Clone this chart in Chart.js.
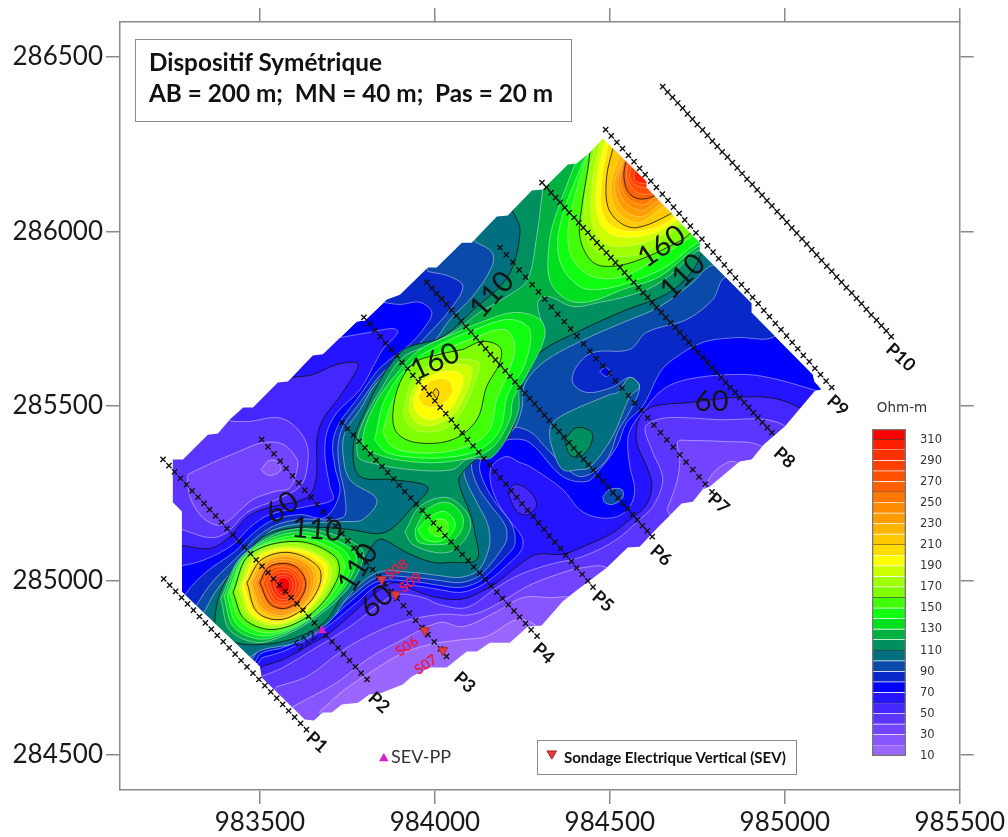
<!DOCTYPE html>
<html>
<head>
<meta charset="utf-8">
<title>Dispositif Symétrique</title>
<script src="https://cdn.jsdelivr.net/npm/chart.js@4"></script>
<style>
  html, body { margin: 0; background: #fff; }
  #wrap { position: relative; width: 1008px; height: 837px; overflow: hidden; font-family: Lato, sans-serif; }
  canvas { position: absolute; left: 0; top: 0; }
  #colorbar { left: 860px; top: 395px; }
  .box { position: absolute; border: 1.5px solid #8a8a8a; box-sizing: border-box; color: #111; font-weight: bold; }
  #infoBox { left: 135px; top: 39px; width: 437px; height: 83px; padding: 6px 0 0 13px; font-size: 24.3px; line-height: 31px; white-space: pre; }
  #keyBox { left: 537px; top: 740px; width: 260px; height: 35px; padding: 6px 0 0 26px; font-size: 15px; line-height: 20px; white-space: nowrap; }
  #ppText { position: absolute; left: 391px; top: 745px; font-size: 18px; line-height: 22px; color: #333; }
</style>
</head>
<body>
<div id="wrap">
  <canvas id="mapChart" width="1008" height="837"></canvas>
  <canvas id="colorbar" width="110" height="374"></canvas>
  <div class="box" id="infoBox">Dispositif Symétrique
AB = 200 m;  MN = 40 m;  Pas = 20 m</div>
  <div class="box" id="keyBox">Sondage Electrique Vertical (SEV)</div>
  <div id="ppText">SEV-PP</div>
</div>
<script>
const xTicks = [983500, 984000, 984500, 985000, 985500];
const yTicks = [284500, 285000, 285500, 286000, 286500];
const xLimits = [983100, 985500];
const yLimits = [284400, 286600];

// Ohm-m classes, one colour per 10 units
const bandLevels = [10, 20, 30, 40, 50, 60, 70, 80, 90, 100, 110, 120, 130, 140, 150, 160, 170, 180, 190, 200, 210, 220, 230, 240, 250, 260, 270, 280, 290, 300, 310];
const bandColors = ['#9966ff', '#8855ff', '#7344ff', '#5c35ff', '#4426ff', '#2414ff', '#0000ff', '#0828c8', '#0a4aa8', '#007080', '#009060', '#00b040', '#00e020', '#10ff10', '#40ff08', '#80ff00', '#a0ff00', '#ccff00', '#ffff00', '#ffdd00', '#ffc800', '#ffb400', '#ff9c00', '#ff8c00', '#ff7800', '#ff6000', '#ff5000', '#ff4000', '#ff3000', '#ff2000', '#ff0000'];
const legendTicks = [10, 30, 50, 70, 90, 110, 130, 150, 170, 190, 210, 230, 250, 270, 290, 310];

// surveyed area outline (easting, northing)
const siteOutline = [[983251,285347],[983280,285347],[983351,285418],[983380,285421],[983414,285461],[983452,285496],[983480,285496],[983551,285567],[983580,285570],[983651,285645],[983680,285648],[983777,285742],[983800,285745],[983863,285805],[983900,285819],[983980,285897],[984005,285897],[984077,285968],[984105,285968],[984177,286043],[984208,286046],[984277,286117],[984308,286120],[984380,286192],[984405,286195],[984443,286226],[984480,286266],[984605,286143],[984605,286126],[984757,285968],[984757,285943],[984905,285794],[984905,285768],[985080,285590],[985085,285570],[985105,285547],[985085,285542],[985000,285441],[984940,285390],[984905,285347],[984871,285341],[984785,285269],[984765,285261],[984737,285226],[984705,285221],[984637,285152],[984585,285097],[984551,285095],[984491,285037],[984400,284968],[984365,284940],[984305,284871],[984265,284868],[984214,284822],[984157,284822],[984120,284797],[984091,284797],[984034,284751],[983986,284751],[983934,284725],[983908,284702],[983837,284674],[983814,284674],[983780,284650],[983734,284645],[983705,284622],[983680,284622],[983654,284599],[983628,284602],[983505,284722],[983500,284754],[983277,284968],[983277,285198],[983251,285224]];

// low resistivity areas, west plateau
const lowWest70 = [[983728,285696],[983814,285711],[983880,285722],[983894,285711],[983851,285662],[983834,285633],[983786,285547],[983720,285481],[983691,285424],[983686,285355],[983700,285269],[983708,285232],[983634,285212],[983528,285189],[983471,285152],[983423,285103],[983343,285060],[983277,285043],[983228,285043],[983214,285375],[983700,285748]];
const lowWest60 = [[983594,285582],[983651,285590],[983720,285619],[983777,285625],[983780,285610],[983728,285527],[983680,285461],[983663,285404],[983660,285289],[983634,285238],[983514,285206],[983463,285181],[983414,285126],[983357,285092],[983277,285100],[983228,285100],[983214,285375],[983586,285619]];
const lowWest50 = [[983420,285456],[983471,285456],[983548,285467],[983594,285447],[983634,285390],[983634,285318],[983614,285269],[983548,285232],[983463,285195],[983406,285138],[983357,285123],[983277,285146],[983228,285160],[983228,285361],[983371,285476]];
const lowWest40 = [[983294,285304],[983365,285338],[983434,285367],[983508,285395],[983566,285390],[983606,285347],[983606,285318],[983586,285266],[983543,285255],[983480,285232],[983391,285160],[983343,285175],[983306,285224],[983294,285269]];
const lowWest30 = [[983503,285318],[983526,285344],[983548,285341],[983560,285318],[983534,285301],[983514,285307]];

// low resistivity areas, south-east side
const lowSouth70 = [[983505,284779],[983566,284797],[983634,284831],[983700,284874],[983777,284937],[983843,284989],[983937,284986],[984014,284974],[984071,284966],[984120,284980],[984166,285009],[984208,285046],[984248,285089],[984248,285126],[984205,285183],[984171,285241],[984157,285298],[984166,285332],[984205,285355],[984243,285338],[984271,285327],[984365,285261],[984414,285203],[984463,285181],[984520,285183],[984557,285212],[984571,285261],[984557,285327],[984551,285404],[984563,285441],[984594,285484],[984651,285547],[984720,285576],[984843,285590],[984937,285585],[985080,285547],[985157,285519],[984757,285032],[984357,284716],[983671,284516],[983471,284716]];
const lowSouth60 = [[983505,284754],[983566,284774],[983634,284811],[983700,284851],[983777,284917],[983843,284974],[983886,284994],[983937,284974],[983994,284954],[984071,284946],[984128,284966],[984177,284994],[984234,285040],[984291,285075],[984365,285075],[984423,285097],[984500,285132],[984557,285175],[984605,285218],[984620,285275],[984605,285327],[984577,285395],[984580,285453],[984605,285490],[984651,285504],[984728,285510],[984851,285524],[984957,285524],[985034,285499],[985128,285433],[984757,285060],[984357,284745],[983671,284487],[983471,284688]];
const lowChannel60 = [[984208,285252],[984228,285275],[984265,285261],[984291,285218],[984265,285189],[984234,285198]];
const lowSouth50 = [[983505,284725],[983566,284751],[983651,284802],[983757,284868],[983834,284926],[983891,284960],[983966,284951],[984014,284931],[984091,284923],[984177,284980],[984243,285017],[984328,285046],[984423,285069],[984520,285118],[984585,285175],[984623,285212],[984651,285289],[984623,285367],[984600,285433],[984614,285453],[984671,285467],[984805,285461],[984980,285453],[985043,285375],[984757,285060],[984357,284745],[983671,284487],[983471,284673]];
const lowSouth40 = [[983548,284696],[983634,284725],[983728,284794],[983806,284840],[983900,284880],[984014,284903],[984108,284903],[984186,284937],[984263,284983],[984348,285017],[984423,285037],[984491,285037],[984585,284946],[984186,284602],[983671,284459],[983500,284630]];
const lowSouth30 = [[983594,284639],[983720,284708],[983806,284774],[983908,284831],[984014,284880],[984080,284868],[984177,284911],[984251,284951],[984328,284951],[984400,284946],[984471,284831],[984128,284573],[983671,284459]];
const lowSouth20 = [[983671,284625],[983743,284688],[983828,284745],[983900,284788],[983986,284817],[984080,284831],[984148,284840],[984234,284888],[984285,284874],[984357,284802],[984100,284573],[983700,284487]];
const lowEast40 = [[984663,285203],[984691,285281],[984700,285347],[984694,285398],[984728,285401],[984834,285398],[984920,285390],[985043,285318],[984757,285060]];
const lowEast30 = [[984765,285261],[984805,285318],[984857,285341],[984885,285289],[984800,285218]];

// rising contours of the main body
const high80 = [[983851,285797],[983900,285791],[983957,285797],[983991,285768],[983966,285719],[983928,285676],[983871,285633],[983834,285599],[983777,285519],[983728,285453],[983708,285395],[983714,285327],[983728,285252],[983686,285181],[983614,285189],[983534,285172],[983477,285132],[983428,285083],[983348,285026],[983291,284966],[983271,284917],[983457,284716],[983500,284788],[983566,284808],[983634,284840],[983700,284888],[983766,284946],[983837,284997],[983937,284997],[984014,284986],[984071,284980],[984120,284994],[984157,285023],[984200,285066],[984228,285103],[984220,285160],[984177,285218],[984143,285275],[984128,285332],[984157,285381],[984214,285404],[984271,285395],[984365,285298],[984434,285284],[984471,285318],[984520,285384],[984548,285453],[984594,285499],[984643,285596],[984680,285633],[984765,285682],[984863,285696],[984971,285699],[985043,285805],[984614,286321],[984357,286292],[983851,285862]];
const high90 = [[983980,285885],[984043,285871],[984080,285842],[984043,285776],[983986,285711],[983928,285653],[983851,285596],[983786,285510],[983737,285441],[983723,285384],[983728,285318],[983743,285241],[983737,285181],[983614,285175],[983543,285158],[983486,285120],[983443,285075],[983365,284997],[983320,284931],[983300,284888],[983443,284745],[983505,284808],[983566,284825],[983634,284860],[983700,284903],[983763,284957],[983837,285009],[983937,285009],[984014,285000],[984071,284994],[984120,285009],[984151,285037],[984186,285083],[984205,285118],[984200,285160],[984157,285218],[984120,285275],[984105,285341],[984134,285395],[984214,285438],[984271,285427],[984314,285384],[984365,285332],[984414,285298],[984463,285318],[984500,285361],[984523,285427],[984557,285484],[984585,285556],[984557,285582],[984505,285553],[984434,285539],[984394,285567],[984405,285613],[984451,285653],[984557,285662],[984605,285711],[984720,285748],[984794,285805],[984828,285868],[984928,285891],[984614,286349],[984357,286321],[983971,285948]];
const patchEast90 = [[984480,285241],[984500,285261],[984534,285261],[984537,285238],[984508,285218],[984485,285224]];
const lobeEast70 = [[984471,285599],[984488,285610],[984503,285596],[984488,285585]];
const high100 = [[984114,285971],[984163,285940],[984163,285900],[984108,285814],[984043,285748],[983994,285682],[983928,285642],[983834,285567],[983786,285490],[983743,285424],[983737,285367],[983757,285289],[983834,285232],[983794,285175],[983743,285169],[983614,285163],[983534,285143],[983494,285109],[983457,285069],[983377,284974],[983348,284923],[983328,284874],[983443,284774],[983508,284802],[983614,284825],[983700,284883],[983757,284960],[983837,285023],[983937,285023],[984014,285014],[984071,285009],[984120,285026],[984143,285060],[984157,285109],[984151,285160],[984123,285218],[984094,285275],[984085,285318],[984143,285370],[984220,285427],[984248,285490],[984257,285562],[984314,285628],[984428,285691],[984537,285739],[984643,285785],[984737,285854],[984785,285900],[984871,285920],[984585,286349],[984357,286292],[984114,286020]];
const islandEast100 = [[984500,285533],[984385,285484],[984337,285453],[984328,285424],[984334,285384],[984365,285318],[984414,285318],[984443,285324],[984508,285413],[984557,285527],[984585,285556],[984557,285582],[984523,285539]];
const islandEast110 = [[984371,285404],[984405,285438],[984448,285424],[984443,285384],[984414,285355],[984385,285361]];
const high110 = [[984223,286057],[984243,286006],[984223,285900],[984186,285842],[984120,285785],[984023,285699],[983900,285653],[983786,285453],[983766,285367],[983786,285298],[983880,285289],[983980,285267],[983937,285212],[983857,285138],[983757,285146],[983686,285152],[983606,285152],[983520,285132],[983471,285089],[983423,285032],[983386,284966],[983371,284888],[983377,284868],[983423,284825],[983508,284817],[983614,284840],[983691,284888],[983743,284974],[983794,285052],[983828,285109],[983851,285118],[983920,285080],[983994,285052],[984043,285052],[984120,285060],[984114,285138],[984100,285195],[984071,285269],[984071,285298],[984128,285355],[984205,285404],[984234,285490],[984243,285576],[984300,285653],[984405,285711],[984548,285776],[984643,285811],[984700,285848],[984743,285897],[984771,285948],[984843,285977],[984585,286349],[984357,286292],[984223,286106]];
const high120 = [[984308,286120],[984291,285986],[984265,285862],[984214,285819],[984128,285768],[984063,285719],[983986,285676],[983908,285639],[983851,285556],[983786,285433],[983780,285355],[983814,285338],[983928,285318],[984051,285318],[984091,285347],[984166,285355],[984237,285481],[984243,285562],[984308,285699],[984294,285797],[984323,285814],[984394,285785],[984471,285797],[984548,285814],[984623,285842],[984685,285885],[984748,285943],[984843,285977],[984585,286349],[984357,286292]];

// first ridge, around P2
const ridgeA120 = [[983388,284948],[983448,285069],[983588,285146],[983737,285123],[983797,285072],[983714,284937],[983520,284825],[983417,284854]];
const ridgeA130 = [[983397,284954],[983454,285072],[983594,285138],[983731,285109],[983777,285057],[983697,284931],[983526,284834],[983428,284863]];
const ridgeA140 = [[983406,284957],[983460,285072],[983597,285129],[983726,285097],[983760,285040],[983683,284923],[983531,284843],[983437,284871]];
const ridgeA150 = [[983414,284963],[983466,285075],[983603,285120],[983720,285083],[983740,285026],[983666,284917],[983537,284851],[983448,284880]];
const ridgeA160 = [[983423,284966],[983471,285075],[983606,285112],[983714,285069],[983723,285009],[983651,284908],[983543,284860],[983457,284888]];
const ridgeA170 = [[983431,284971],[983477,285072],[983600,285106],[983705,285063],[983711,285006],[983646,284911],[983546,284865],[983463,284894]];
const ridgeA180 = [[983440,284977],[983483,285069],[983597,285097],[983694,285055],[983700,285000],[983643,284917],[983548,284871],[983471,284900]];
const ridgeA190 = [[983448,284983],[983491,285066],[983594,285092],[983686,285052],[983688,284997],[983637,284917],[983551,284877],[983477,284903]];
const ridgeA200 = [[983454,284989],[983497,285063],[983588,285086],[983677,285046],[983680,284991],[983631,284920],[983554,284883],[983486,284908]];
const ridgeA210 = [[983463,284994],[983505,285060],[983586,285080],[983666,285040],[983671,284989],[983628,284923],[983557,284888],[983491,284911]];
const ridgeA220 = [[983471,284994],[983508,285055],[983580,285075],[983654,285040],[983663,284989],[983626,284928],[983560,284894],[983500,284917]];
const ridgeA230 = [[983477,284994],[983511,285049],[983577,285069],[983643,285040],[983654,284991],[983623,284931],[983563,284900],[983505,284923]];
const ridgeA240 = [[983486,284994],[983517,285046],[983574,285060],[983631,285037],[983646,284991],[983620,284937],[983566,284908],[983514,284928]];
const ridgeA250 = [[983491,284994],[983520,285040],[983568,285055],[983617,285037],[983637,284994],[983617,284940],[983568,284914],[983523,284931]];
const ridgeA260 = [[983500,284994],[983523,285037],[983566,285049],[983606,285037],[983631,284994],[983614,284946],[983571,284920],[983528,284934]];
const ridgeA270 = [[983508,284991],[983531,285032],[983566,285040],[983600,285029],[983623,284991],[983608,284951],[983571,284928],[983534,284940]];
const ridgeA280 = [[983520,284991],[983537,285023],[983566,285032],[983594,285023],[983614,284991],[983600,284957],[983571,284937],[983540,284946]];
const ridgeA290 = [[983528,284991],[983543,285017],[983566,285023],[983591,285017],[983603,284989],[983594,284960],[983571,284946],[983546,284954]];
const ridgeA300 = [[983540,284989],[983548,285009],[983566,285014],[983586,285009],[983594,284989],[983588,284966],[983568,284954],[983551,284963]];
const ridgeA310 = [[983548,284989],[983554,285003],[983566,285009],[983580,285003],[983586,284986],[983580,284971],[983568,284963],[983554,284971]];

// central ridge, around P4-P5
const ridgeB130 = [[984034,285699],[984137,285742],[984228,285768],[984300,285748],[984314,285699],[984263,285590],[984223,285519],[984214,285461],[984157,285375],[984043,285341],[983928,285341],[983837,285361],[983794,285395],[983828,285504],[983900,285604],[983957,285662]];
const ridgeB140 = [[983828,285404],[983857,285519],[983928,285619],[984014,285676],[984114,285719],[984214,285748],[984271,285719],[984257,285619],[984208,285533],[984186,285433],[984128,285375],[984028,285352],[983914,285355],[983857,285370]];
const ridgeB150 = [[983851,285427],[983877,285510],[983937,285605],[984020,285656],[984114,285696],[984200,285719],[984228,285676],[984214,285605],[984177,285519],[984157,285433],[984105,285390],[984014,285367],[983914,285370],[983871,285390]];
const ridgeB160 = [[984080,285662],[984137,285685],[984186,285668],[984186,285625],[984148,285556],[984120,285461],[984051,285404],[983948,285395],[983891,285424],[983880,285481],[983900,285567],[983943,285625],[984014,285648]];
const ridgeB170 = [[983914,285510],[983937,285576],[984005,285625],[984123,285628],[984120,285585],[984080,285490],[984034,285438],[983957,285427],[983914,285461]];
const ridgeB180 = [[983928,285519],[983951,285570],[984014,285613],[984100,285613],[984100,285567],[984057,285481],[984005,285447],[983957,285447],[983928,285481]];
const ridgeB190 = [[983937,285519],[983966,285570],[984023,285599],[984077,285590],[984071,285539],[984034,285481],[983986,285461],[983948,285481]];
const ridgeB200 = [[983951,285527],[983986,285570],[984034,285576],[984051,285547],[984028,285510],[983994,285496],[983966,285504]];
const ridgeB210 = [[983994,285539],[984003,285550],[984011,285539],[984005,285522]];

// small high south of the central ridge
const ridgeC120 = [[983914,285138],[983957,285212],[984034,285238],[984091,285195],[984100,285146],[984057,285089],[984005,285080],[983937,285103]];
const ridgeC130 = [[983943,285146],[983977,285203],[984034,285224],[984077,285189],[984077,285146],[984043,285109],[983994,285103],[983951,285112]];
const ridgeC140 = [[983951,285146],[983986,285183],[984028,285198],[984057,285169],[984051,285138],[984014,285112],[983971,285118]];
const ridgeC150 = [[983980,285146],[984005,285175],[984034,285169],[984034,285140],[984005,285126]];

// northern high, open towards the P9 edge
const ridgeD130 = [[984400,286192],[984348,286054],[984328,285977],[984328,285862],[984377,285805],[984443,285799],[984537,285834],[984643,285871],[984748,285954],[984843,285991],[984528,286349]];
const ridgeD140 = [[984423,286198],[984377,286083],[984351,285977],[984363,285900],[984414,285842],[984471,285834],[984557,285854],[984663,285900],[984751,285968],[984843,286006],[984528,286349]];
const ridgeD150 = [[984434,286215],[984400,286100],[984380,285997],[984394,285920],[984451,285871],[984537,285871],[984663,285940],[984748,285991],[984843,286020],[984528,286349]];
const ridgeD160 = [[984443,286226],[984437,286178],[984420,286072],[984414,285986],[984443,285920],[984485,285900],[984571,285914],[984708,285977],[984751,286011],[984843,286034],[984528,286349]];
const ridgeD170 = [[984457,286243],[984434,286129],[984428,286006],[984463,285943],[984528,285928],[984605,285943],[984700,286014],[984814,286063],[984528,286349]];
const ridgeD180 = [[984471,286255],[984451,286149],[984448,286034],[984477,285971],[984537,285957],[984623,285977],[984720,286034],[984814,286092],[984528,286349]];
const ridgeD190 = [[984485,286258],[984465,286158],[984463,286054],[984494,285997],[984557,285983],[984637,286000],[984728,286057],[984814,286106],[984528,286349]];
const ridgeD200 = [[984494,286243],[984477,286149],[984477,286063],[984508,286014],[984565,286000],[984651,286020],[984728,286077],[984814,286120],[984528,286349]];
const ridgeD210 = [[984508,286235],[984491,286158],[984494,286072],[984528,286026],[984577,286011],[984671,286049],[984757,286106],[984557,286335]];
const ridgeD220 = [[984528,286215],[984505,286149],[984508,286083],[984537,286043],[984585,286026],[984651,286069],[984757,286120],[984585,286321]];
const ridgeD230 = [[984537,286206],[984514,286140],[984523,286086],[984551,286054],[984594,286043],[984643,286077],[984757,286135],[984600,286306]];
const ridgeD240 = [[984537,286200],[984523,286140],[984534,286097],[984563,286069],[984594,286060],[984634,286086],[984757,286149],[984614,286292]];
const ridgeD250 = [[984540,286198],[984531,286155],[984540,286109],[984568,286083],[984600,286077],[984628,286097],[984757,286163],[984614,286278]];
const ridgeD260 = [[984545,286198],[984540,286158],[984551,286115],[984580,286094],[984623,286100],[984757,286178],[984614,286264]];
const ridgeD270 = [[984551,286192],[984548,286158],[984563,286126],[984585,286109],[984617,286109],[984757,286192],[984628,286249]];
const ridgeD280 = [[984560,286183],[984557,286155],[984571,286135],[984594,286126],[984614,286126],[984757,286206],[984643,286235]];
const ridgeD300 = [[984571,286172],[984571,286149],[984585,286140],[984614,286140],[984757,286220],[984657,286220]];

// paint order: [colour class, contour level, vertices]
const contourLayers = [
  [60, 70, lowWest70], [50, 60, lowWest60], [40, 50, lowWest50], [30, 40, lowWest40], [20, 30, lowWest30],
  [60, 70, lowSouth70], [50, 60, lowSouth60], [50, 60, lowChannel60], [40, 50, lowSouth50], [30, 40, lowSouth40], [20, 30, lowSouth30], [10, 20, lowSouth20],
  [30, 40, lowEast40], [20, 30, lowEast30],
  [80, 80, high80], [90, 90, high90], [90, 90, patchEast90], [70, 80, lobeEast70],
  [100, 100, high100], [100, 100, islandEast100], [110, 110, islandEast110], [110, 110, high110], [120, 120, high120],
  [120, 120, ridgeA120], [130, 130, ridgeA130], [140, 140, ridgeA140], [150, 150, ridgeA150], [160, 160, ridgeA160], [170, 170, ridgeA170], [180, 180, ridgeA180], [190, 190, ridgeA190], [200, 200, ridgeA200], [210, 210, ridgeA210], [220, 220, ridgeA220], [230, 230, ridgeA230], [240, 240, ridgeA240], [250, 250, ridgeA250], [260, 260, ridgeA260], [270, 270, ridgeA270], [280, 280, ridgeA280], [290, 290, ridgeA290], [300, 300, ridgeA300], [310, 300, ridgeA310],
  [130, 130, ridgeB130], [140, 140, ridgeB140], [150, 150, ridgeB150], [160, 160, ridgeB160], [170, 170, ridgeB170], [180, 180, ridgeB180], [190, 190, ridgeB190], [200, 200, ridgeB200], [210, 210, ridgeB210],
  [120, 120, ridgeC120], [130, 130, ridgeC130], [140, 140, ridgeC140], [150, 150, ridgeC150],
  [130, 130, ridgeD130], [140, 140, ridgeD140], [150, 150, ridgeD150], [160, 160, ridgeD160], [170, 170, ridgeD170], [180, 180, ridgeD180], [190, 190, ridgeD190], [200, 200, ridgeD200], [210, 210, ridgeD210], [220, 220, ridgeD220], [230, 230, ridgeD230], [240, 240, ridgeD240], [250, 250, ridgeD250], [260, 260, ridgeD260], [270, 270, ridgeD270], [280, 280, ridgeD280], [300, 300, ridgeD300]
];

// measuring stations along each profile
const profileP1 = [[983225,285005],[983242,284987],[983259,284969],[983276,284951],[983293,284933],[983310,284915],[983327,284897],[983344,284879],[983361,284861],[983378,284843],[983395,284825],[983412,284807],[983429,284789],[983446,284771],[983463,284753],[983480,284735],[983497,284717],[983514,284699],[983531,284681],[983548,284663],[983565,284645],[983582,284627],[983599,284609],[983616,284591],[983633,284573]];
const profileP2 = [[983223,285347],[983240,285329],[983256,285311],[983273,285293],[983290,285275],[983306,285257],[983323,285239],[983340,285221],[983356,285203],[983373,285185],[983390,285167],[983406,285149],[983423,285131],[983440,285113],[983456,285095],[983473,285077],[983489,285059],[983506,285041],[983523,285023],[983539,285005],[983556,284987],[983573,284969],[983589,284951],[983606,284933],[983623,284915],[983639,284897],[983656,284879],[983673,284861],[983689,284843],[983706,284825],[983723,284807],[983739,284789],[983756,284771],[983773,284753],[983789,284735],[983806,284717]];
const profileP3 = [[983505,285404],[983523,285383],[983540,285363],[983558,285342],[983575,285321],[983593,285300],[983611,285280],[983628,285259],[983646,285238],[983663,285218],[983681,285197],[983699,285176],[983716,285156],[983734,285135],[983751,285114],[983769,285093],[983787,285073],[983804,285052],[983822,285031],[983839,285011],[983857,284990],[983875,284969],[983892,284949],[983910,284928],[983927,284907],[983945,284886],[983963,284866],[983980,284845],[983998,284824],[984016,284804],[984033,284783]];
const profileP4 = [[983734,285453],[983750,285435],[983767,285417],[983783,285399],[983800,285381],[983816,285363],[983832,285345],[983849,285327],[983865,285309],[983882,285291],[983898,285273],[983914,285255],[983931,285237],[983947,285219],[983964,285201],[983980,285183],[983996,285165],[984013,285147],[984029,285129],[984046,285111],[984062,285093],[984078,285075],[984095,285057],[984111,285039],[984128,285021],[984144,285003],[984160,284985],[984177,284967],[984193,284949],[984210,284931],[984226,284913],[984242,284895],[984259,284877],[984275,284859],[984292,284841]];
const profileP5 = [[983797,285754],[983813,285736],[983828,285717],[983844,285699],[983859,285680],[983875,285662],[983891,285644],[983906,285625],[983922,285607],[983937,285588],[983953,285570],[983969,285552],[983984,285533],[984000,285515],[984015,285496],[984031,285478],[984047,285460],[984062,285441],[984078,285423],[984093,285404],[984109,285386],[984125,285368],[984140,285349],[984156,285331],[984171,285312],[984187,285294],[984203,285276],[984218,285257],[984234,285239],[984249,285220],[984265,285202],[984281,285184],[984296,285165],[984312,285147],[984327,285128],[984343,285110],[984359,285092],[984374,285073],[984390,285055],[984405,285036],[984421,285018],[984437,284999],[984452,284981]];
const profileP6 = [[983977,285854],[983991,285838],[984005,285822],[984019,285807],[984033,285791],[984047,285775],[984061,285759],[984075,285743],[984089,285727],[984103,285712],[984117,285696],[984131,285680],[984145,285664],[984159,285648],[984173,285632],[984187,285617],[984201,285601],[984215,285585],[984229,285569],[984243,285553],[984257,285537],[984271,285522],[984285,285506],[984299,285490],[984313,285474],[984327,285458],[984341,285442],[984355,285427],[984369,285411],[984383,285395],[984397,285379],[984411,285363],[984425,285347],[984439,285332],[984453,285316],[984467,285300],[984481,285284],[984495,285268],[984509,285252],[984523,285237],[984537,285221],[984551,285205],[984565,285189],[984579,285173],[984593,285157],[984607,285142],[984621,285126]];
const profileP7 = [[984186,285954],[984204,285933],[984223,285912],[984241,285890],[984259,285869],[984278,285848],[984296,285827],[984314,285806],[984333,285784],[984351,285763],[984370,285742],[984388,285721],[984406,285700],[984425,285678],[984443,285657],[984461,285636],[984480,285615],[984498,285594],[984516,285572],[984535,285551],[984553,285530],[984571,285509],[984590,285488],[984608,285466],[984626,285445],[984645,285424],[984663,285403],[984681,285382],[984700,285360],[984718,285339],[984737,285318],[984755,285297],[984773,285276],[984792,285254]];
const profileP8 = [[984306,286140],[984319,286126],[984332,286111],[984345,286097],[984358,286083],[984371,286068],[984384,286054],[984398,286040],[984411,286025],[984424,286011],[984437,285997],[984450,285982],[984463,285968],[984476,285954],[984490,285939],[984503,285925],[984516,285911],[984529,285897],[984542,285882],[984555,285868],[984568,285854],[984582,285839],[984595,285825],[984608,285811],[984621,285796],[984634,285782],[984647,285768],[984660,285753],[984674,285739],[984687,285725],[984700,285710],[984713,285696],[984726,285682],[984739,285667],[984752,285653],[984766,285639],[984779,285625],[984792,285610],[984805,285596],[984818,285582],[984831,285567],[984844,285553],[984858,285539],[984871,285524],[984884,285510],[984897,285496],[984910,285481],[984923,285467],[984936,285453],[984950,285438],[984963,285424]];
const profileP9 = [[984488,286292],[984504,286274],[984520,286255],[984536,286237],[984553,286218],[984569,286200],[984585,286181],[984601,286163],[984617,286144],[984633,286126],[984650,286107],[984666,286089],[984682,286070],[984698,286052],[984714,286033],[984730,286015],[984746,285996],[984763,285978],[984779,285959],[984795,285941],[984811,285922],[984827,285904],[984843,285885],[984859,285867],[984876,285848],[984892,285830],[984908,285811],[984924,285793],[984940,285774],[984956,285756],[984973,285737],[984989,285719],[985005,285701],[985021,285682],[985037,285664],[985053,285645],[985070,285627],[985086,285608],[985102,285590],[985118,285571],[985134,285553]];
const profileP10 = [[984651,286415],[984665,286399],[984679,286384],[984694,286368],[984708,286353],[984722,286337],[984736,286322],[984750,286306],[984765,286291],[984779,286275],[984793,286259],[984807,286244],[984821,286228],[984836,286213],[984850,286197],[984864,286182],[984878,286166],[984892,286150],[984907,286135],[984921,286119],[984935,286104],[984949,286088],[984963,286073],[984978,286057],[984992,286042],[985006,286026],[985020,286010],[985034,285995],[985049,285979],[985063,285964],[985077,285948],[985091,285933],[985105,285917],[985120,285901],[985134,285886],[985148,285870],[985162,285855],[985176,285839],[985191,285824],[985205,285808],[985219,285793],[985233,285777],[985247,285761],[985262,285746],[985276,285730],[985290,285715],[985304,285699]];
const profiles = [profileP1, profileP2, profileP3, profileP4, profileP5, profileP6, profileP7, profileP8, profileP9, profileP10];

const sevPoints = [[983848,285003],[983888,284960],[983971,284857],[984023,284800],[984334,284504]];
const sevPpPoints = [[983677,284857],[983854,284490]];

// text, easting, northing, rotation (deg)
const contourLabels = [['60',983563,285209,-35],['110',983663,285146,5],['110',983780,285037,-58],['60',983834,284940,-42],['160',984000,285627,-25],['110',984163,285819,-48],['160',984648,285957,-35],['110',984708,285871,-45],['60',984791,285513,0]];
const profileLabels = [['P1',983663,284536],['P2',983840,284650],['P3',984085,284708],['P4',984311,284791],['P5',984480,284940],['P6',984646,285072],['P7',984811,285221],['P8',984999,285352],['P9',985151,285501],['P10',985331,285639]];
const sevLabels = [['S08',983891,285032],['S09',983931,284994],['S06',983920,284811],['S07',983974,284759]];
const s12Label = ['S12',983631,284828];

function toXY(points) {
  return points.map(function (p) { return { x: p[0], y: p[1] }; });
}

function bandColor(level) {
  return bandColors[bandLevels.indexOf(level)];
}

function contourColor(level) {
  if ((level - 10) % 50 === 0) return 'rgba(15,15,15,0.8)';
  return level >= 170 ? 'rgba(255,255,255,0.28)' : 'rgba(255,255,255,0.42)';
}

const datasets = [];

// base class over the whole surveyed area
datasets.push({
  data: toXY(siteOutline.concat([siteOutline[0]])),
  showLine: true, fill: 'shape', tension: 0, pointRadius: 0, borderWidth: 0,
  backgroundColor: bandColor(70)
});

contourLayers.forEach(function (layer) {
  datasets.push({
    data: toXY(layer[2].concat([layer[2][0]])),
    showLine: true, fill: 'shape', tension: 0.35, pointRadius: 0, borderWidth: 1,
    backgroundColor: bandColor(layer[0]),
    borderColor: contourColor(layer[1])
  });
});

// white ring that trims everything back to the surveyed area
const corner = [xLimits[0], yLimits[0]];
datasets.push({
  data: toXY([corner, [xLimits[1], yLimits[0]], [xLimits[1], yLimits[1]], [xLimits[0], yLimits[1]], corner]
    .concat(siteOutline, [siteOutline[0], corner])),
  showLine: true, fill: 'shape', tension: 0, pointRadius: 0, borderWidth: 0,
  backgroundColor: '#ffffff'
});

profiles.forEach(function (stations) {
  datasets.push({
    data: toXY(stations),
    showLine: false, pointStyle: 'crossRot', pointRadius: 3.7, pointBorderWidth: 1.4,
    pointBorderColor: '#111'
  });
});

datasets.push({
  data: toXY(sevPoints),
  showLine: false, pointStyle: 'triangle', rotation: 180, pointRadius: 5.5, pointBorderWidth: 1,
  pointBackgroundColor: '#e23b3b', pointBorderColor: '#a82828'
});
datasets.push({
  data: toXY(sevPpPoints),
  showLine: false, pointStyle: 'triangle', pointRadius: 5.5, pointBorderWidth: 0,
  pointBackgroundColor: '#d81fc8', pointBorderColor: '#d81fc8'
});

// later entries have to paint later
datasets.forEach(function (d, i) { d.order = datasets.length - i; });

function setTicks(values) {
  return function (scale) {
    scale.ticks = values.map(function (value) { return { value: value }; });
  };
}

const frameColor = '#8a8a8a';

function axisOptions(position, limits, values, size, showLabels) {
  const vertical = position === 'left' || position === 'right';
  return {
    type: 'linear', position: position, min: limits[0], max: limits[1],
    afterBuildTicks: setTicks(values),
    afterFit: function (scale) {
      if (vertical) { scale.width = size; } else { scale.height = size; }
    },
    grid: { drawOnChartArea: false, drawTicks: true, tickLength: 14, color: frameColor, lineWidth: 1.5 },
    border: { color: frameColor, width: 1.5, z: 1 },
    ticks: {
      display: showLabels, autoSkip: false, maxRotation: 0, padding: 3, color: '#1a1a1a',
      font: { family: 'Lato', size: 26 },
      callback: function (value) { return String(value); }
    }
  };
}

function drawText(ctx, text, x, y, degrees, font, color) {
  ctx.save();
  ctx.translate(x, y);
  ctx.rotate(degrees * Math.PI / 180);
  ctx.font = font;
  ctx.fillStyle = color;
  ctx.textAlign = 'center';
  ctx.textBaseline = 'middle';
  ctx.fillText(text, 0, 0);
  ctx.restore();
}

const mapTextPlugin = {
  id: 'mapText',
  afterDatasetsDraw: function (chart) {
    const ctx = chart.ctx;
    const sx = chart.scales.x;
    const sy = chart.scales.y;
    contourLabels.forEach(function (l) {
      drawText(ctx, l[0], sx.getPixelForValue(l[1]), sy.getPixelForValue(l[2]), l[3], '29px Lato', '#151515');
    });
    profileLabels.forEach(function (l) {
      drawText(ctx, l[0], sx.getPixelForValue(l[1]), sy.getPixelForValue(l[2]), 42, 'bold 18px Lato', '#111');
    });
    sevLabels.forEach(function (l) {
      drawText(ctx, l[0], sx.getPixelForValue(l[1]), sy.getPixelForValue(l[2]), -35, 'bold 14px Lato', '#f01840');
    });
    drawText(ctx, s12Label[0], sx.getPixelForValue(s12Label[1]), sy.getPixelForValue(s12Label[2]), -35, 'bold 14px Lato', '#16165a');
    drawText(ctx, 'Ohm-m', 902, 408, 0, '13.5px "DejaVu Sans"', '#333');
  }
};

new Chart(document.getElementById('mapChart'), {
  type: 'scatter',
  data: { datasets: datasets },
  plugins: [mapTextPlugin],
  options: {
    responsive: false,
    animation: false,
    events: [],
    layout: { padding: 0 },
    plugins: { legend: { display: false }, tooltip: { enabled: false }, title: { display: false } },
    scales: {
      x: axisOptions('bottom', xLimits, xTicks, 47, true),
      y: axisOptions('left', yLimits, yTicks, 120, true),
      xTop: axisOptions('top', xLimits, xTicks, 22, false),
      yRight: axisOptions('right', yLimits, yTicks, 48, false)
    }
  }
});

// colour bar
const legendSets = bandLevels.map(function (level, i) {
  return {
    data: [[level, level + 10]],
    backgroundColor: bandColors[i],
    borderColor: (level - 10) % 50 === 0 ? 'rgba(20,20,20,0.85)' : 'rgba(255,255,255,0.3)',
    borderWidth: { bottom: level === 10 ? 0 : 1 },
    borderSkipped: false,
    grouped: false,
    barPercentage: 1,
    categoryPercentage: 1
  };
});
legendSets.unshift({
  data: [[10, 320]],
  backgroundColor: 'rgba(0,0,0,0)',
  borderColor: '#777',
  borderWidth: 1,
  borderSkipped: false,
  grouped: false,
  barPercentage: 1,
  categoryPercentage: 1
});

new Chart(document.getElementById('colorbar'), {
  type: 'bar',
  data: { labels: ['Ohm-m'], datasets: legendSets },
  options: {
    responsive: false,
    animation: false,
    events: [],
    layout: { padding: { left: 12, top: 34, bottom: 5, right: 0 } },
    plugins: { legend: { display: false }, tooltip: { enabled: false } },
    scales: {
      x: { display: false },
      y: {
        position: 'right', min: 10, max: 320,
        afterBuildTicks: setTicks(legendTicks),
        afterFit: function (scale) { scale.width = 64; },
        grid: { display: false },
        border: { display: false },
        ticks: { autoSkip: false, padding: 6, color: '#333', font: { family: 'DejaVu Sans', size: 11.5 } }
      }
    }
  }
});
</script>
</body>
</html>
